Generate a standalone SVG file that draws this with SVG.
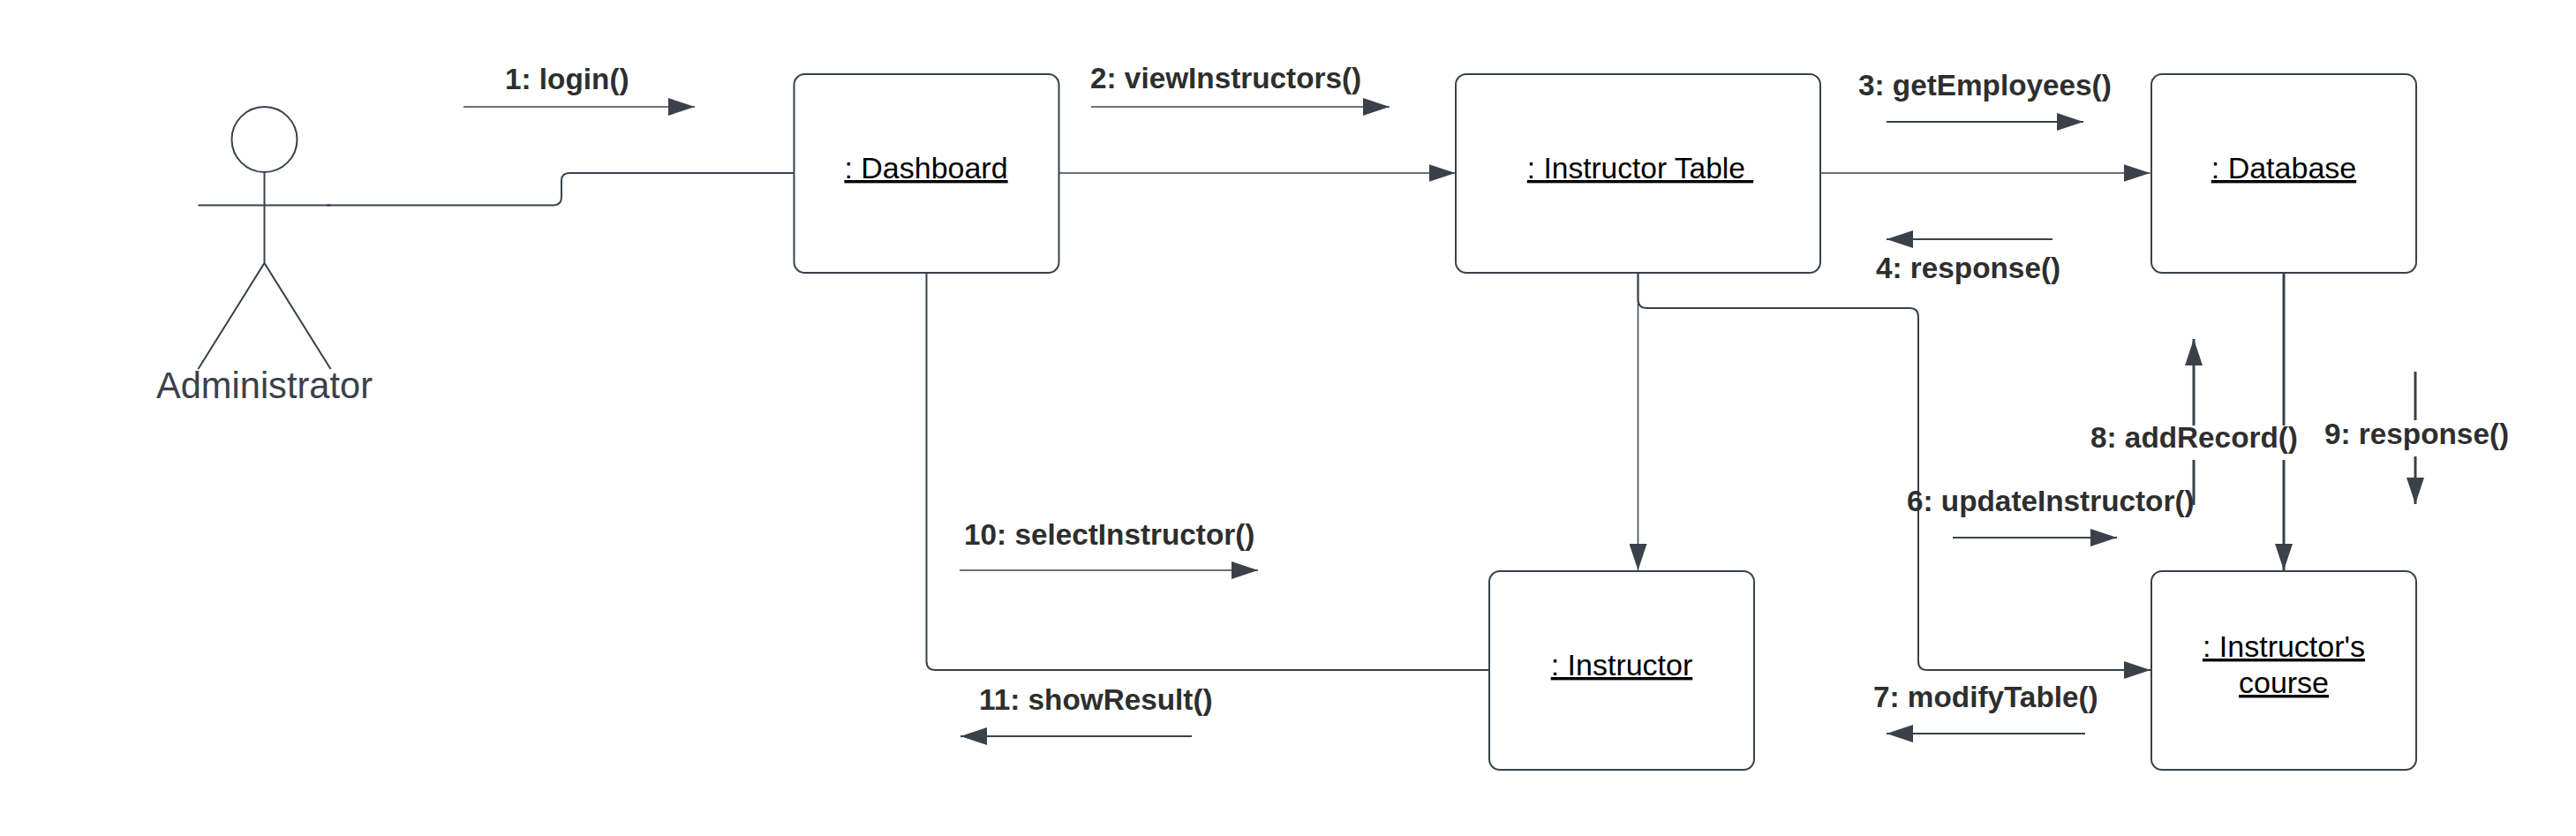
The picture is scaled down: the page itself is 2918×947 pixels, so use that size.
<svg xmlns="http://www.w3.org/2000/svg" width="2918" height="947" viewBox="0 0 2918 947">
<style>
.box{fill:#fff;stroke:#3a414a;stroke-width:2}
.ln{fill:none;stroke:#3a414a;stroke-width:2}
.tn{stroke-width:1.500}
.th{stroke-width:3}
.nm{font:34px "Liberation Sans",Arial,sans-serif;fill:#000;text-anchor:middle;text-decoration:underline;white-space:pre}
.lb{font:bold 33.300px "Liberation Sans",Arial,sans-serif;fill:#2e2e2e}
.ac{font:41.600px "Liberation Sans",Arial,sans-serif;fill:#3a414a;text-anchor:middle}
</style>
<defs>
<marker id="a" markerUnits="userSpaceOnUse" markerWidth="30" markerHeight="20" refX="30" refY="10" orient="auto"><path d="M0 0L30 10L0 20z" fill="#3a414a"/></marker>
</defs>
<rect width="2918" height="947" fill="#fff"/>
<g id="connectors">
<path class="ln" d="M370 232.500H627Q636 232.500 636 223V205Q636 196 645 196H899"/>
<path class="ln tn" d="M1199 196H1648.500" marker-end="url(#a)"/>
<path class="ln tn" d="M2062 196H2435.500" marker-end="url(#a)"/>
<path class="ln tn" d="M1855.500 309V646" marker-end="url(#a)"/>
<path class="ln" d="M1855.500 309V339Q1855.500 349 1865.500 349H2163Q2173 349 2173 359V749Q2173 759 2183 759H2436" marker-end="url(#a)"/>
<path class="ln th" d="M2587 309V646" marker-end="url(#a)"/>
<path class="ln" d="M1049.500 309V749Q1049.500 759 1059.500 759H1687"/>
<path class="ln tn" d="M525 121H787" marker-end="url(#a)"/>
<path class="ln tn" d="M1236 121H1574" marker-end="url(#a)"/>
<path class="ln" d="M2137 138H2360" marker-end="url(#a)"/>
<path class="ln" d="M2325 271H2137" marker-end="url(#a)"/>
<path class="ln" d="M2212 609H2398" marker-end="url(#a)"/>
<path class="ln" d="M2362 831H2137" marker-end="url(#a)"/>
<path class="ln th" d="M2485 572V384" marker-end="url(#a)"/>
<path class="ln th" d="M2736 421V571" marker-end="url(#a)"/>
<path class="ln tn" d="M1087 646H1425" marker-end="url(#a)"/>
<path class="ln" d="M1350 834H1088" marker-end="url(#a)"/>
<text class="lb" x="572" y="101">1: login()</text>
<text class="lb" x="1235" y="100">2: viewInstructors()</text>
<text class="lb" x="2105" y="108">3: getEmployees()</text>
<text class="lb" x="2125" y="315">4: response()</text>
<rect x="2360" y="482" width="243" height="39" fill="#fff"/>
<rect x="2625" y="476" width="225" height="41" fill="#fff"/>
<text class="lb" x="2160" y="579">6: updateInstructor()</text>
<text class="lb" x="2122" y="801">7: modifyTable()</text>
<text class="lb" x="2368" y="507">8: addRecord()</text>
<text class="lb" x="2633" y="503">9: response()</text>
<text class="lb" x="1092" y="617">10: selectInstructor()</text>
<text class="lb" x="1109" y="804">11: showResult()</text>
</g>
<g id="actor">
<ellipse class="ln" cx="299.500" cy="158" rx="37" ry="37"/>
<path class="ln" d="M224.500 232.500H374.500M299.500 195V298M224.500 418L299.500 298L374.500 418"/>
<text class="ac" x="299.500" y="451">Administrator</text>
</g>
<g id="dashboard"><rect class="box" x="899.500" y="84" width="300" height="225" rx="12"/><text class="nm" x="1049" y="202">: Dashboard</text></g>
<g id="instructor-table"><rect class="box" x="1649" y="84" width="413" height="225" rx="12"/><text class="nm" x="1858" y="202" style="font-size:33.500px">: Instructor Table </text></g>
<g id="database"><rect class="box" x="2437" y="84" width="300" height="225" rx="12"/><text class="nm" x="2587" y="202">: Database</text></g>
<g id="instructor"><rect class="box" x="1687" y="647" width="300" height="225" rx="12"/><text class="nm" x="1837" y="765">: Instructor</text></g>
<g id="instructors-course"><rect class="box" x="2437" y="647" width="300" height="225" rx="12"/><text class="nm" x="2587" y="744">: Instructor's</text><text class="nm" x="2587" y="785">course</text></g>
</svg>
